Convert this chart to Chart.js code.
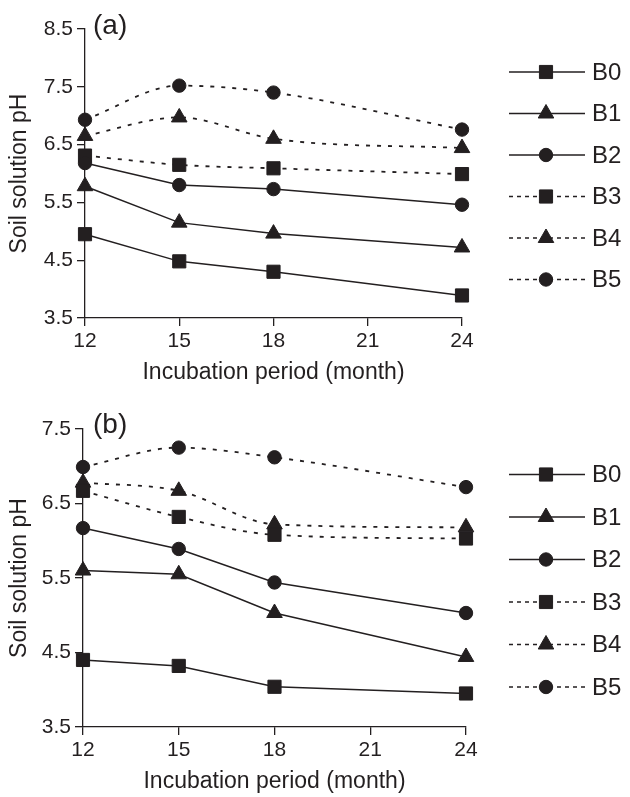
<!DOCTYPE html>
<html><head><meta charset="utf-8">
<script src="https://cdn.jsdelivr.net/npm/chart.js@4.4.1/dist/chart.umd.min.js"></script>
<style>
html,body{margin:0;padding:0;background:#fff;}
body{width:630px;height:797px;position:relative;overflow:hidden;}
.panel{position:absolute;left:0;width:630px;}
</style></head><body>
<div class="panel" style="top:0;height:390px"><canvas id="ca"></canvas></div>
<div class="panel" style="top:390px;height:407px"><canvas id="cb"></canvas></div>
<script>
// ---- data ----
const months = [12, 15, 18, 24];
const xTicks = [12, 15, 18, 21, 24];
const seriesNames = ['B0', 'B1', 'B2', 'B3', 'B4', 'B5'];
const yTicksA = [3.5, 4.5, 5.5, 6.5, 7.5, 8.5];
const yTicksB = [3.5, 4.5, 5.5, 6.5, 7.5];

const a_B0 = [4.95, 4.48, 4.30, 3.89];
const a_B1 = [5.78, 5.15, 4.96, 4.72];
const a_B2 = [6.18, 5.80, 5.73, 5.46];
const a_B3 = [6.31, 6.15, 6.09, 5.99];
const a_B4 = [6.65, 6.97, 6.60, 6.44];
const a_B5 = [6.93, 7.52, 7.40, 6.76];

const b_B0 = [4.40, 4.32, 4.04, 3.95];
const b_B1 = [5.60, 5.55, 5.03, 4.44];
const b_B2 = [6.17, 5.89, 5.44, 5.03];
const b_B3 = [6.67, 6.32, 6.08, 6.03];
const b_B4 = [6.78, 6.67, 6.22, 6.18];
const b_B5 = [6.99, 7.25, 7.12, 6.72];

const xTitle = 'Incubation period (month)';
const yTitle = 'Soil solution pH';

// ---- styling ----
const INK = '#231f20';
const FONT = "'Liberation Sans', Arial, Helvetica, sans-serif";
const markers = ['rect', 'triangle', 'circle', 'rect', 'triangle', 'circle'];
const radii = { rect: 9.3, triangle: 9, circle: 6.7 };

function buildDatasets(seriesArr) {
  return seriesArr.map((vals, i) => {
    const dashed = i >= 3;
    return {
      label: seriesNames[i],
      data: months.map((m, k) => ({ x: m, y: vals[k] })),
      borderColor: INK,
      backgroundColor: INK,
      borderWidth: dashed ? 1.8 : 1.5,
      borderDash: dashed ? [4, 7] : [],
      tension: 0,
      cubicInterpolationMode: dashed ? 'monotone' : 'default',
      pointStyle: markers[i],
      pointRadius: radii[markers[i]],
      pointHoverRadius: radii[markers[i]],
      pointBorderWidth: 1,
      pointBackgroundColor: INK,
      pointBorderColor: INK,
      clip: false
    };
  });
}

const sidePlugin = {
  id: 'sideLegend',
  afterDraw(chart, args, opts) {
    const ctx = chart.ctx;
    ctx.save();
    // panel label
    ctx.fillStyle = INK;
    ctx.font = '28px ' + FONT;
    ctx.textBaseline = 'alphabetic';
    ctx.textAlign = 'left';
    ctx.fillText(opts.panel, opts.px, opts.py);
    // legend
    chart.data.datasets.forEach((ds, i) => {
      const y = opts.y0 + i * opts.dy;
      ctx.strokeStyle = INK;
      ctx.fillStyle = INK;
      ctx.lineWidth = 1.4;
      ctx.setLineDash(ds.borderDash.length ? [4, 4] : []);
      ctx.beginPath();
      ctx.moveTo(opts.x0, y);
      ctx.lineTo(opts.x1, y);
      ctx.stroke();
      ctx.setLineDash([]);
      ctx.lineWidth = 1;
      Chart.helpers.drawPoint(ctx, { pointStyle: ds.pointStyle, radius: ds.pointRadius, borderWidth: 1, rotation: 0 }, opts.xm, y);
      ctx.font = '24px ' + FONT;
      ctx.textBaseline = 'middle';
      ctx.fillText(ds.label, opts.xt, y + 1);
    });
    ctx.restore();
  }
};

function makeChart(id, seriesArr, yTicks, g) {
  const yMin = yTicks[0], yMax = yTicks[yTicks.length - 1];
  return new Chart(document.getElementById(id), {
    type: 'line',
    data: { datasets: buildDatasets(seriesArr) },
    plugins: [sidePlugin],
    options: {
      responsive: true,
      maintainAspectRatio: false,
      devicePixelRatio: 1,
      animation: false,
      events: [],
      layout: { padding: { top: g.top, right: 630 - g.right, left: 0, bottom: 0 } },
      plugins: {
        legend: { display: false },
        tooltip: { enabled: false },
        title: { display: false },
        sideLegend: g.legend
      },
      scales: {
        x: {
          type: 'linear', min: xTicks[0], max: xTicks[xTicks.length - 1],
          afterBuildTicks: s => { s.ticks = xTicks.map(v => ({ value: v })); },
          afterFit: s => { s.height = g.H - g.bottom; },
          grid: { drawOnChartArea: false, drawTicks: true, tickLength: 8, color: INK, lineWidth: 1.3 },
          border: { display: true, color: INK, width: 1.3 },
          ticks: { color: INK, font: { family: FONT, size: 21 }, padding: 3, maxRotation: 0, autoSkip: false },
          title: { display: true, text: xTitle, color: INK, font: { family: FONT, size: 23 },
                   padding: { top: 0, bottom: g.H - g.bottom - 55 - 13.8 } }
        },
        y: {
          type: 'linear', min: yMin, max: yMax,
          afterBuildTicks: s => { s.ticks = yTicks.map(v => ({ value: v })); },
          afterFit: s => { s.width = g.left; },
          grid: { drawOnChartArea: false, drawTicks: true, tickLength: 8, color: INK, lineWidth: 1.3 },
          border: { display: true, color: INK, width: 1.3 },
          ticks: { color: INK, font: { family: FONT, size: 21 }, padding: 4,
                   callback: v => Number(v).toFixed(1) },
          title: { display: true, text: yTitle, color: INK, font: { family: FONT, size: 23 },
                   padding: { top: 6, bottom: 0 } }
        }
      }
    }
  });
}

makeChart('ca', [a_B0, a_B1, a_B2, a_B3, a_B4, a_B5], yTicksA,
  { H: 390, top: 29, bottom: 318, left: 85, right: 462,
    legend: { panel: '(a)', px: 93, py: 34, x0: 509, x1: 585, xm: 546, xt: 592, y0: 72, dy: 41.5 } });

makeChart('cb', [b_B0, b_B1, b_B2, b_B3, b_B4, b_B5], yTicksB,
  { H: 407, top: 39, bottom: 337, left: 83, right: 466,
    legend: { panel: '(b)', px: 93, py: 43, x0: 509, x1: 585, xm: 546, xt: 592, y0: 84.5, dy: 42.5 } });
</script>
</body></html>
